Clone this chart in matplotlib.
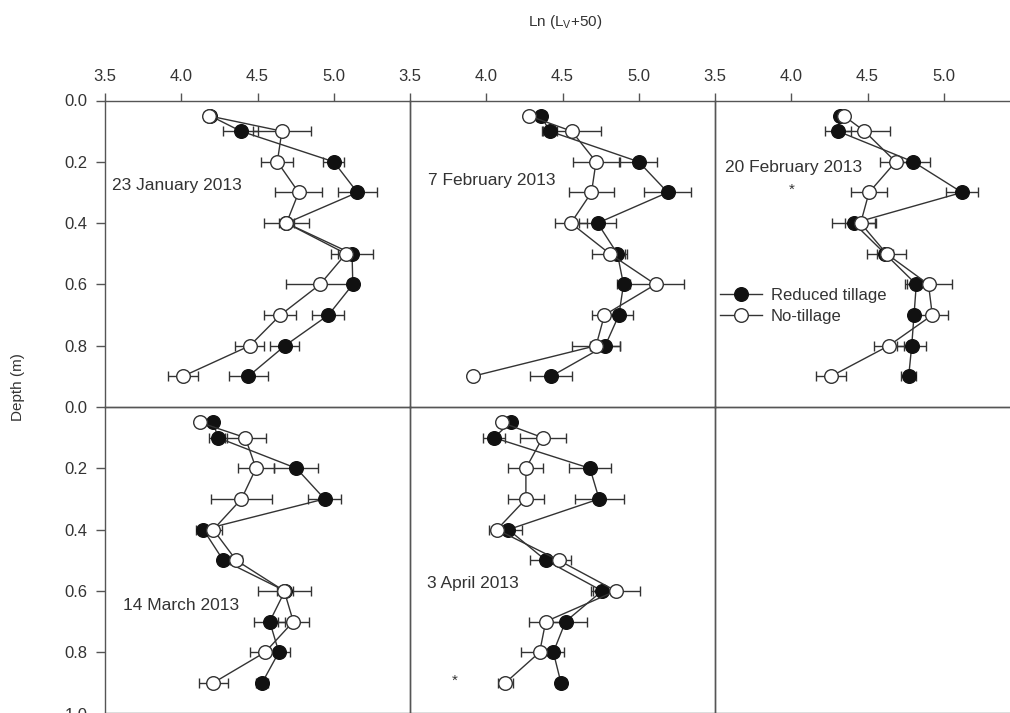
import matplotlib
matplotlib.use('Agg')
import matplotlib.pyplot as plt

plt.rcParams['font.family'] = ['Liberation Sans', 'DejaVu Sans']

# ---------------- data ----------------
depth = [0.05, 0.1, 0.2, 0.3, 0.4, 0.5, 0.6, 0.7, 0.8, 0.9]

panel_titles = ['23 January 2013', '7 February 2013', '20 February 2013',
                '14 March 2013', '3 April 2013']

jan23_rt = [4.19, 4.39, 5.00, 5.155, 4.69, 5.12, 5.125, 4.965, 4.68, 4.44]
jan23_rt_err = [0.03, 0.115, 0.07, 0.13, 0.05, 0.14, 0.03, 0.105, 0.095, 0.13]
jan23_nt = [4.18, 4.66, 4.63, 4.77, 4.69, 5.08, 4.91, 4.65, 4.45, 4.01]
jan23_nt_err = [0.03, 0.19, 0.105, 0.155, 0.15, 0.05, 0.22, 0.105, 0.095, 0.10]

feb07_rt = [4.36, 4.415, 5.00, 5.19, 4.73, 4.86, 4.90, 4.87, 4.78, 4.425]
feb07_rt_err = [0.03, 0.05, 0.12, 0.155, 0.12, 0.05, 0.04, 0.09, 0.10, 0.135]
feb07_nt = [4.28, 4.56, 4.72, 4.69, 4.555, 4.81, 5.11, 4.775, 4.72, 3.91]
feb07_nt_err = [0.02, 0.19, 0.15, 0.145, 0.105, 0.115, 0.185, 0.08, 0.16, 0.0]

feb20_rt = [4.32, 4.305, 4.80, 5.12, 4.41, 4.615, 4.82, 4.805, 4.79, 4.77]
feb20_rt_err = [0.02, 0.085, 0.11, 0.105, 0.14, 0.05, 0.06, 0.03, 0.095, 0.05]
feb20_nt = [4.345, 4.48, 4.685, 4.51, 4.455, 4.625, 4.90, 4.925, 4.64, 4.26]
feb20_nt_err = [0.02, 0.165, 0.105, 0.12, 0.10, 0.13, 0.155, 0.105, 0.10, 0.10]

mar14_rt = [4.21, 4.24, 4.755, 4.94, 4.145, 4.275, 4.68, 4.58, 4.64, 4.53]
mar14_rt_err = [0.02, 0.06, 0.145, 0.11, 0.05, 0.03, 0.05, 0.10, 0.07, 0.04]
mar14_nt = [4.12, 4.42, 4.49, 4.395, 4.21, 4.36, 4.675, 4.735, 4.55, 4.21]
mar14_nt_err = [0.02, 0.135, 0.12, 0.20, 0.06, 0.04, 0.175, 0.10, 0.10, 0.095]

apr03_rt = [4.16, 4.05, 4.68, 4.74, 4.145, 4.39, 4.76, 4.52, 4.44, 4.49]
apr03_rt_err = [0.02, 0.07, 0.14, 0.16, 0.09, 0.10, 0.06, 0.14, 0.07, 0.03]
apr03_nt = [4.10, 4.37, 4.26, 4.26, 4.07, 4.475, 4.85, 4.39, 4.35, 4.125]
apr03_nt_err = [0.02, 0.15, 0.115, 0.12, 0.05, 0.08, 0.16, 0.11, 0.12, 0.05]

series_labels = ['Reduced tillage', 'No-tillage']
x_ticks = [3.5, 4.0, 4.5, 5.0]
x_ticklabels = ['3.5', '4.0', '4.5', '5.0']
y_ticks_top = [0.0, 0.2, 0.4, 0.6, 0.8]
y_ticks_bottom = [0.0, 0.2, 0.4, 0.6, 0.8, 1.0]

# (title position x, depth) and asterisk positions
title_pos = [(3.546, 0.278), (3.618, 0.262), (3.566, 0.218), (3.618, 0.647), (3.613, 0.575)]
star_pos = {2: (4.0, 0.292), 4: (3.79, 0.892)}

panels = [
    (jan23_rt, jan23_rt_err, jan23_nt, jan23_nt_err),
    (feb07_rt, feb07_rt_err, feb07_nt, feb07_nt_err),
    (feb20_rt, feb20_rt_err, feb20_nt, feb20_nt_err),
    (mar14_rt, mar14_rt_err, mar14_nt, mar14_nt_err),
    (apr03_rt, apr03_rt_err, apr03_nt, apr03_nt_err),
]

# ---------------- figure ----------------
W, H = 1010, 713
fig = plt.figure(figsize=(W / 100, H / 100), dpi=100)

left0, top0 = 105, 100.5
pw, ph = 305, 306.5

spine_c = '#555555'
line_c = '#333333'
text_c = '#333333'


def add_ax(c, r):
    l = left0 + pw * c
    t = top0 + ph * r
    return fig.add_axes([l / W, 1 - (t + ph) / H, pw / W, ph / H])


axes = []
for i in range(6):
    r, c = divmod(i, 3)
    ax = add_ax(c, r)
    ax.set_xlim(3.5, 5.5)
    ax.set_ylim(1.0, 0.0)
    ax.set_facecolor('none')
    for s in ax.spines.values():
        s.set_color(spine_c)
        s.set_linewidth(1.0)
    if r == 0:
        ax.xaxis.tick_top()
        ax.set_xticks(x_ticks)
        ax.set_xticklabels(x_ticklabels)
        ax.tick_params(axis='x', direction='out', length=6, width=1.0,
                       color=spine_c, labelsize=12, labelcolor=text_c, pad=6)
    else:
        ax.set_xticks([])
    if c == 0:
        yt = y_ticks_top if r == 0 else y_ticks_bottom
        ax.set_yticks(yt)
        ax.set_yticklabels(['%.1f' % v for v in yt])
        ax.tick_params(axis='y', direction='out', length=6.5, width=1.0,
                       color=spine_c, labelsize=12, labelcolor=text_c, pad=6)
    else:
        ax.set_yticks([])
    axes.append(ax)

handles = []
for i, (rt, rt_e, nt, nt_e) in enumerate(panels):
    ax = axes[i]
    ax.errorbar(rt, depth, xerr=rt_e, fmt='none', ecolor=line_c,
                elinewidth=1.0, capsize=3.6, capthick=1.0, zorder=2)
    ax.errorbar(nt, depth, xerr=nt_e, fmt='none', ecolor=line_c,
                elinewidth=1.0, capsize=3.6, capthick=1.0, zorder=2)
    h1, = ax.plot(rt, depth, '-o', color=line_c, lw=1.0, ms=9.8,
                  mfc='#111111', mec='#111111', mew=1.0, zorder=3,
                  label=series_labels[0])
    h2, = ax.plot(nt, depth, '-o', color=line_c, lw=1.0, ms=9.8,
                  mfc='white', mec='#333333', mew=1.0, zorder=4,
                  label=series_labels[1])
    if i == 2:
        handles = [h1, h2]
    tx, ty = title_pos[i]
    ax.text(tx, ty, panel_titles[i], fontsize=12.5, color=text_c,
            ha='left', va='center')
    if i in star_pos:
        sx, sy = star_pos[i]
        ax.text(sx, sy, '*', fontsize=11, color=text_c, ha='center', va='center')

axes[2].legend(handles=handles, loc='center left', bbox_to_anchor=(0.016, 0.33),
               frameon=False, fontsize=12, handlelength=2.5, handletextpad=0.55,
               labelspacing=0.35, borderpad=0, borderaxespad=0,
               labelcolor=text_c)

fig.text(565 / W, 1 - 22 / H, r'Ln (L$_\mathregular{V}$+50)', ha='center',
         va='center', fontsize=11, color=text_c)
fig.text(18 / W, 1 - 387 / H, 'Depth (m)', rotation=90, ha='center',
         va='center', fontsize=11, color=text_c)

fig.savefig('out.png', dpi=100)
